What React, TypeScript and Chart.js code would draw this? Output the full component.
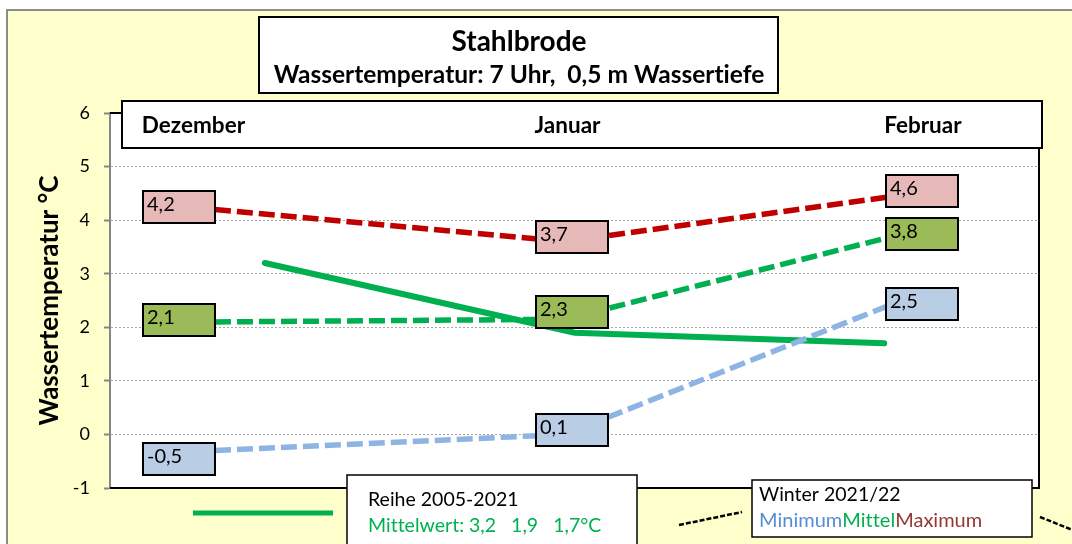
import React, { useEffect, useRef } from 'react';
import { Chart, registerables } from 'chart.js';

Chart.register(...registerables);

// ---- data ----
const months = ['Dezember', 'Januar', 'Februar'];
// Reihe 2005-2021, monthly mean (solid line)
const reiheMittel = [3.2, 1.9, 1.7];
// Winter 2021/22 lines as drawn (dashed)
const winterMin = [-0.3, 0.0, 2.6];
const winterMittel = [2.1, 2.15, 3.8];
const winterMax = [4.2, 3.6, 4.5];
// Winter 2021/22 value labels (boxes)
const labelMin = [-0.5, 0.1, 2.5];
const labelMittel = [2.1, 2.3, 3.8];
const labelMax = [4.2, 3.7, 4.6];
const yMin = -1;
const yMax = 6;

const FONT = 'Lato, "Open Sans", sans-serif';
const fmt = (v: number) => v.toFixed(1).replace('.', ',');

const COLORS = {
  bg: '#FFFFCC',
  min: '#8DB4E2',
  mittel: '#00B050',
  max: '#C00000',
  minBox: '#B9CDE5',
  mittelBox: '#9BBB59',
  maxBox: '#E6B9B8',
  minText: '#558ED5',
  mittelText: '#00B050',
  maxText: '#953735',
};

// layout constants (annotation placement relative to category centres)
const boxOffsetX = [-122, -39, 2];
const boxOffsetY = [-2, 1, 3];

const decorPlugin = {
  id: 'decor',
  beforeDraw(chart: any) {
    const { ctx, width, height, chartArea: a } = chart;
    ctx.save();
    ctx.fillStyle = '#FFFFFF';
    ctx.fillRect(0, 0, width, height);
    ctx.fillStyle = COLORS.bg;
    ctx.fillRect(7, 10, width, height);
    ctx.strokeStyle = '#8C8C8C';
    ctx.lineWidth = 2;
    ctx.strokeRect(7, 10, width + 20, height + 20);
    ctx.fillStyle = '#FFFFFF';
    ctx.fillRect(a.left, a.top, a.right - a.left, a.bottom - a.top);
    ctx.restore();
  },
  afterDatasetsDraw(chart: any) {
    const { ctx, chartArea: a, scales } = chart;
    const xs = scales.x;
    const ys = scales.y;
    ctx.save();
    try {
      (ctx as any).letterSpacing = '0.01px';
    } catch (e) {
      /* ignore */
    }
    // plot border
    ctx.strokeStyle = '#000';
    ctx.lineWidth = 2;
    ctx.beginPath();
    ctx.moveTo(a.left, a.top);
    ctx.lineTo(a.right, a.top);
    ctx.lineTo(a.right, a.bottom);
    ctx.lineTo(a.left, a.bottom);
    ctx.stroke();

    // value label boxes
    const drawBox = (i: number, v: number, fill: string) => {
      const x = Math.round(xs.getPixelForValue(i) + boxOffsetX[i]);
      const yc = Math.round(ys.getPixelForValue(v) + boxOffsetY[i]);
      const w = 72, h = 32;
      ctx.fillStyle = fill;
      ctx.fillRect(x, yc - h / 2, w, h);
      ctx.strokeStyle = '#000';
      ctx.lineWidth = 2;
      ctx.strokeRect(x, yc - h / 2, w, h);
      ctx.fillStyle = '#000';
      ctx.font = `20px ${FONT}`;
      ctx.textAlign = 'left';
      ctx.textBaseline = 'middle';
      ctx.fillText(fmt(v), x + 4, yc - 2);
    };
    for (let i = 0; i < months.length; i++) {
      drawBox(i, labelMax[i], COLORS.maxBox);
      drawBox(i, labelMittel[i], COLORS.mittelBox);
      drawBox(i, labelMin[i], COLORS.minBox);
    }

    // month header box
    ctx.fillStyle = '#FFF';
    ctx.fillRect(122, 101, 920, 47);
    ctx.strokeStyle = '#000';
    ctx.lineWidth = 2;
    ctx.strokeRect(122, 101, 920, 47);
    ctx.fillStyle = '#000';
    ctx.font = `bold 22.5px ${FONT}`;
    ctx.textBaseline = 'middle';
    const cx = months.map((_, i) => xs.getPixelForValue(i));
    ctx.textAlign = 'left';
    ctx.fillText(months[0], cx[0] - 123, 126);
    ctx.textAlign = 'center';
    ctx.fillText(months[1], cx[1] - 7, 126);
    ctx.textAlign = 'left';
    ctx.fillText(months[2], cx[2], 126);

    // title box
    ctx.fillStyle = '#FFF';
    ctx.fillRect(259, 17, 519, 76);
    ctx.strokeRect(259, 17, 519, 76);
    ctx.fillStyle = '#000';
    ctx.textAlign = 'center';
    ctx.font = `bold 28px ${FONT}`;
    ctx.fillText('Stahlbrode', 519, 42);
    ctx.font = `bold 24.5px ${FONT}`;
    ctx.fillText('Wassertemperatur: 7 Uhr,  0,5 m Wassertiefe', 519, 75);

    // legend: Reihe
    ctx.strokeStyle = COLORS.mittel;
    ctx.lineWidth = 5;
    ctx.beginPath();
    ctx.moveTo(193, 513);
    ctx.lineTo(333, 513);
    ctx.stroke();
    ctx.fillStyle = '#FFF';
    ctx.fillRect(347, 475, 290, 90);
    ctx.strokeStyle = '#000';
    ctx.lineWidth = 1.5;
    ctx.strokeRect(347, 475, 290, 90);
    ctx.textAlign = 'left';
    ctx.font = `19.5px ${FONT}`;
    ctx.fillStyle = '#000';
    ctx.fillText('Reihe 2005-2021', 368, 500);
    ctx.fillStyle = COLORS.mittelText;
    ctx.fillText('Mittelwert: ' + reiheMittel.map(fmt).join('   ') + '°C', 368, 526);

    // legend: Winter
    ctx.strokeStyle = '#000';
    ctx.lineWidth = 2.5;
    ctx.setLineDash([5, 2]);
    ctx.beginPath();
    ctx.moveTo(679, 525);
    ctx.lineTo(742, 512);
    ctx.moveTo(1040, 517);
    ctx.lineTo(1075, 531);
    ctx.stroke();
    ctx.setLineDash([]);
    ctx.fillStyle = '#FFF';
    ctx.fillRect(752, 480, 280, 57);
    ctx.lineWidth = 1.5;
    ctx.strokeRect(752, 480, 280, 57);
    ctx.fillStyle = '#000';
    ctx.font = `19.5px ${FONT}`;
    ctx.fillText('Winter 2021/22', 759, 495);
    ctx.font = `20px ${FONT}`;
    let tx = 759;
    const parts: [string, string][] = [
      ['Minimum', COLORS.minText],
      ['Mittel', COLORS.mittelText],
      ['Maximum', COLORS.maxText],
    ];
    for (const [t, c] of parts) {
      ctx.fillStyle = c;
      ctx.fillText(t, tx, 521);
      tx += ctx.measureText(t).width;
    }
    ctx.restore();
  },
};

export default function App() {
  const ref = useRef<HTMLCanvasElement | null>(null);
  useEffect(() => {
    if (!ref.current) return;
    const toXY = (arr: number[]) => arr.map((v, i) => ({ x: i, y: v }));
    const dashed = (label: string, data: number[], color: string) => ({
      label,
      data: toXY(data),
      xAxisID: 'xw',
      borderColor: color,
      backgroundColor: color,
      borderWidth: 5.5,
      borderDash: [16, 6],
      borderCapStyle: 'butt',
      pointRadius: 0,
      tension: 0,
      fill: false,
    });
    const chart = new Chart(ref.current, {
      type: 'line',
      data: {
        labels: months,
        datasets: [
          dashed('Minimum', winterMin, COLORS.min),
          dashed('Mittel', winterMittel, COLORS.mittel),
          dashed('Maximum', winterMax, COLORS.max),
          {
            label: 'Reihe 2005-2021',
            data: reiheMittel,
            xAxisID: 'x',
            borderColor: COLORS.mittel,
            backgroundColor: COLORS.mittel,
            borderWidth: 6,
            borderCapStyle: 'round',
            pointRadius: 0,
            tension: 0,
            fill: false,
          } as any,
        ] as any,
      },
      options: {
        animation: false,
        responsive: false,
        maintainAspectRatio: false,
        layout: { padding: { left: 0, right: 33, top: 113, bottom: 56 } },
        plugins: {
          legend: { display: false },
          tooltip: { enabled: false },
          title: { display: false },
        },
        scales: {
          x: { type: 'category', display: false, offset: true },
          xw: { type: 'linear', display: false, min: -0.3, max: 2.355 },
          y: {
            type: 'linear',
            min: yMin,
            max: yMax,
            afterFit: (s: any) => {
              s.width = 110;
            },
            ticks: {
              stepSize: 1,
              padding: 14,
              color: '#000',
              font: { family: FONT, size: 18 },
              callback: (v: any) => String(v),
            },
            grid: {
              color: '#A6A6A6',
              lineWidth: 1,
              tickColor: '#868686',
              tickLength: 6,
              tickWidth: 2,
            },
            border: { display: true, color: '#868686', width: 2, dash: [2, 2] },
            title: {
              display: true,
              text: 'Wassertemperatur °C',
              color: '#000',
              font: { family: FONT, size: 26, weight: 'bold' },
              padding: { top: 34, bottom: 0 },
            },
          },
        },
      } as any,
      plugins: [decorPlugin],
    });
    return () => chart.destroy();
  }, []);
  return (
    <div style={{ position: 'absolute', left: 0, top: 0, width: 1072, height: 544 }}>
      <canvas ref={ref} width={1072} height={544} style={{ display: 'block' }} />
    </div>
  );
}
